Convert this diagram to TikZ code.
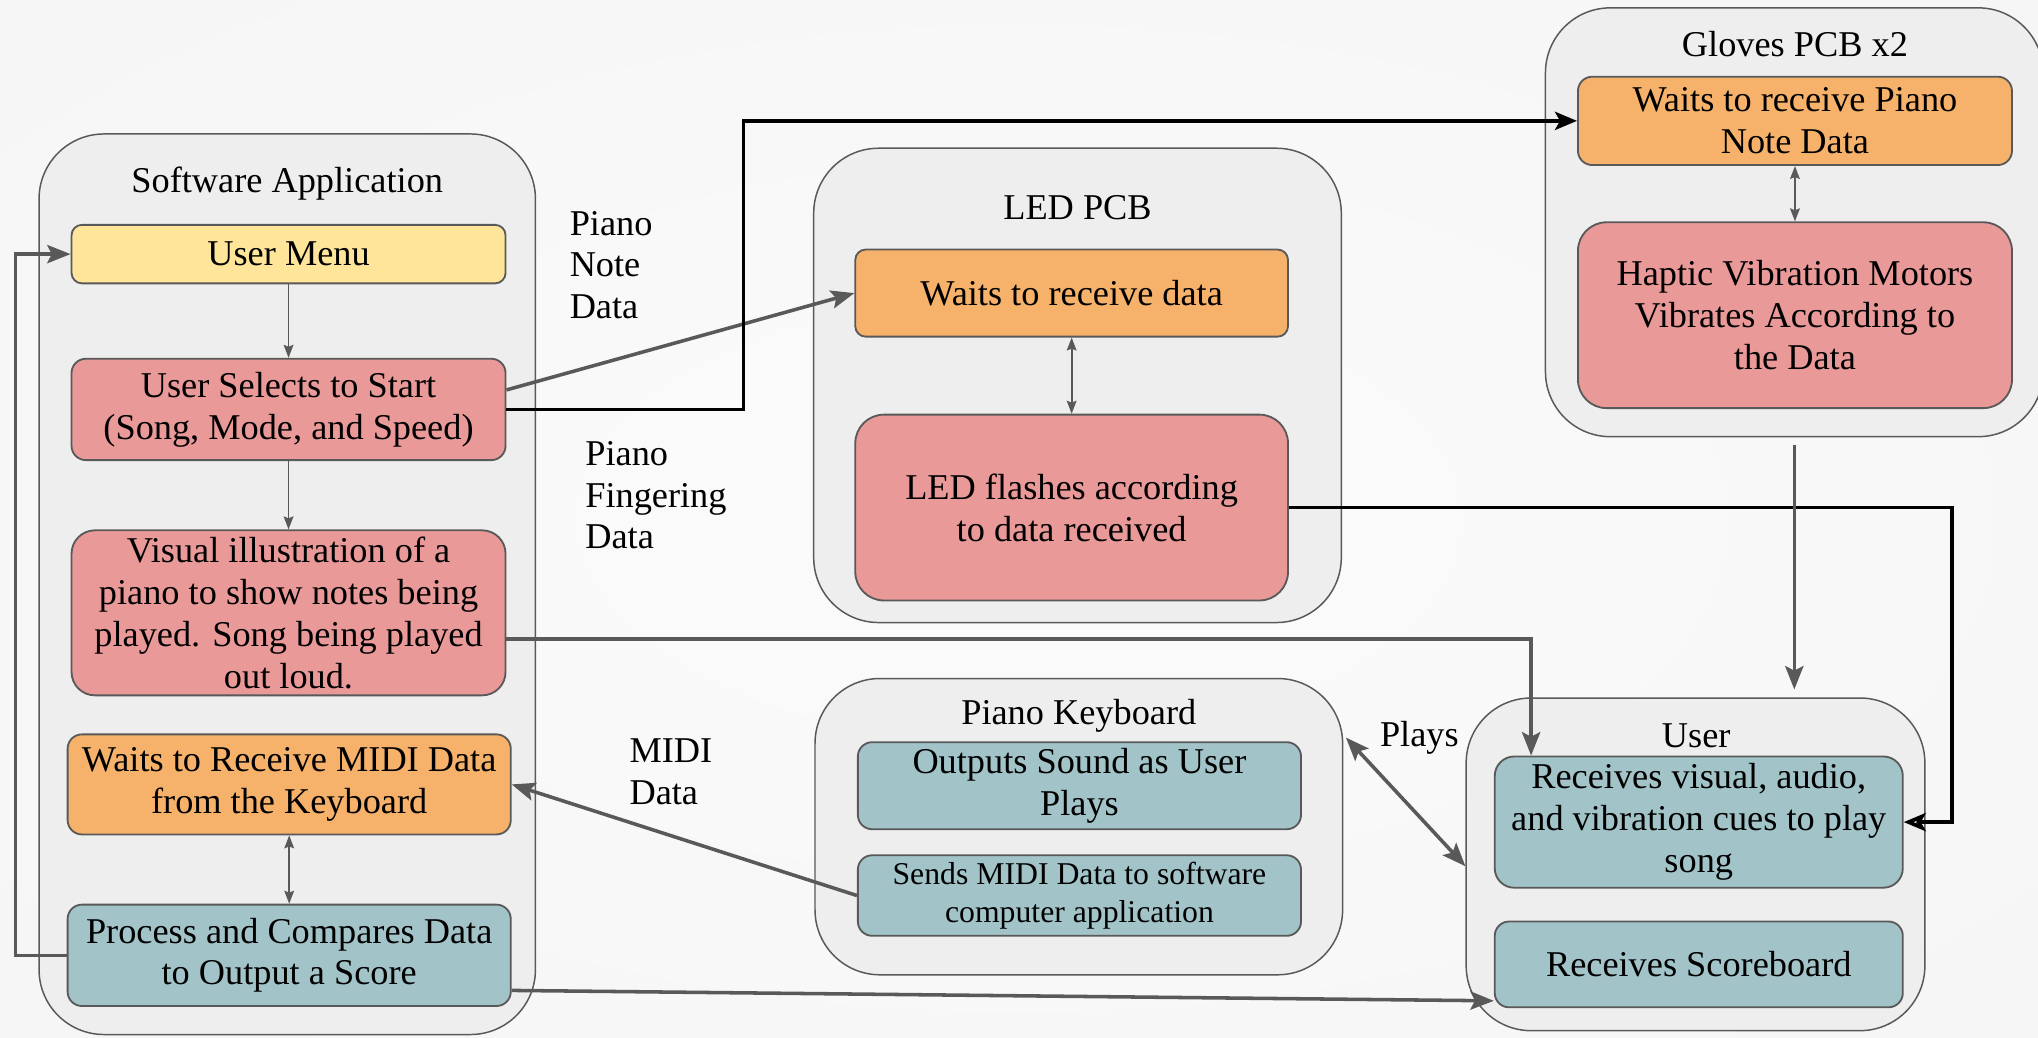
\documentclass[tikz,border=0pt]{standalone}
\usepackage{fontspec}
\setmainfont{Liberation Serif}
\usetikzlibrary{arrows.meta,calc}
\definecolor{pinkf}{HTML}{EA9999}
\definecolor{orangef}{HTML}{F6B26B}
\definecolor{yellowf}{HTML}{FFE599}
\definecolor{tealf}{HTML}{A2C4C9}
\definecolor{contf}{HTML}{EEEEEE}
\definecolor{lineg}{HTML}{595959}
\pgfdeclareradialshading{bgshade}{\pgfpoint{0bp}{0bp}}{color(0bp)=(gray!3); color(30bp)=(gray!8); color(50bp)=(gray!28)}
\begin{document}
\begin{tikzpicture}[x=0.02cm, y=-0.02cm,
  font=\fontsize{15.9pt}{18.3pt}\selectfont,
  base/.style={draw=lineg, line width=0.8pt, inner sep=0pt, align=center, rounded corners=0.22cm},
  container/.style={base, line width=0.65pt, fill=contf, rounded corners=1cm},
  pinkbox/.style={base, fill=pinkf},
  orangebox/.style={base, fill=orangef},
  yellowbox/.style={base, fill=yellowf},
  tealbox/.style={base, fill=tealf},
  wh/.style 2 args={minimum width=#1cm, minimum height=#2cm},
  ttl/.style={inner sep=0pt, align=center},
  lbl/.style={inner sep=0pt, align=left, anchor=west},
  thinarr/.style={draw=lineg, line width=0.75pt, -{Stealth[length=0.2cm,width=0.15cm,inset=0.03cm]}},
  thinboth/.style={draw=lineg, line width=0.75pt, {Stealth[length=0.2cm,width=0.15cm,inset=0.03cm]}-{Stealth[length=0.2cm,width=0.15cm,inset=0.03cm]}},
  grayarr/.style={draw=lineg, line width=1.55pt, -{Stealth[length=0.36cm,width=0.28cm,inset=0.07cm]}},
  grayboth/.style={draw=lineg, line width=1.55pt, {Stealth[length=0.36cm,width=0.28cm,inset=0.07cm]}-{Stealth[length=0.36cm,width=0.28cm,inset=0.07cm]}},
  blkarr/.style={draw=black, line width=1.65pt, -{Stealth[length=0.34cm,width=0.28cm,inset=0.08cm]}},
  blkopen/.style={draw=black, line width=1.65pt, -{Stealth[length=0.34cm,width=0.28cm,inset=0.08cm,open]}},
]
\useasboundingbox (0,0) rectangle (1568,798);
\clip (0,0) rectangle (1568,798);
\shade[shading=bgshade] (-300,-150) rectangle (1868,948);

% containers
\node[container, wh={7.64}{13.86}] (sw) at (221,449.5) {};
\node[container, wh={8.12}{7.3}] (led) at (829,296.5) {};
\node[container, wh={7.66}{6.6}] (gl) at (1380.5,171) {};
\node[container, wh={8.12}{4.56}] (pk) at (830,636) {};
\node[container, wh={7.06}{5.12}] (usr) at (1304.5,665) {};

% titles
\node[ttl] (swt) at (221,141) {Software Application};
\node[ttl] (ledt) at (829,160) {LED PCB};
\node[ttl] (glt) at (1381,34) {Gloves PCB x2};
\node[ttl] (pkt) at (830,551) {Piano Keyboard};
\node[ttl] (usrt) at (1305,566) {User};

% software boxes
\node[yellowbox, rounded corners=0.16cm, wh={6.68}{0.9}] (um) at (222,195.5) {User Menu};
\node[pinkbox, wh={6.68}{1.56}] (sel) at (222,315) {User Selects to Start\\(Song, Mode, and Speed)};
\node[pinkbox, rounded corners=0.36cm, wh={6.68}{2.54}] (vis) at (222,471.5) {Visual illustration of a\\piano to show notes being\\played. Song being played\\out loud.};
\node[orangebox, wh={6.82}{1.54}] (wm) at (222.5,603.5) {Waits to Receive MIDI Data\\from the Keyboard};
\node[tealbox, wh={6.82}{1.56}] (pc) at (222.5,735) {Process and Compares Data\\to Output a Score};

% LED boxes
\node[orangebox, rounded corners=0.16cm, wh={6.66}{1.34}] (ledw) at (824.5,225.5) {Waits to receive data};
\node[pinkbox, rounded corners=0.44cm, wh={6.66}{2.86}] (ledf) at (824.5,390.5) {LED flashes according\\to data received};

% gloves boxes
\node[orangebox, wh={6.68}{1.36}] (glw) at (1381,93) {Waits to receive Piano\\Note Data};
\node[pinkbox, rounded corners=0.44cm, wh={6.68}{2.86}] (hap) at (1381,242.5) {Haptic Vibration Motors\\Vibrates According to\\the Data};

% piano keyboard boxes
\node[tealbox, wh={6.82}{1.34}] (os) at (830.5,604.5) {Outputs Sound as User\\Plays};
\node[tealbox, wh={6.82}{1.24}, font=\fontsize{13.9pt}{16.8pt}\selectfont] (sm) at (830.5,689) {Sends MIDI Data to software\\computer application};

% user boxes
\node[tealbox, rounded corners=0.3cm, wh={6.28}{2.02}] (rv) at (1307,632.5) {Receives visual, audio,\\and vibration cues to play\\song};
\node[tealbox, wh={6.28}{1.32}] (rs) at (1307,742) {Receives Scoreboard};

% labels
\node[lbl] (pnd) at (438,204) {Piano\\Note\\Data};
\node[lbl] (pfd) at (450,381) {Piano\\Fingering\\Data};
\node[lbl] (mdd) at (484,594) {MIDI\\Data};
\node[ttl] (plays) at (1092,568) {Plays};

% inner connectors
\draw[thinarr] (um.south) -- (sel.north);
\draw[thinarr] (sel.south) -- (vis.north);
\draw[thinboth] (wm.south) -- (pc.north);
\draw[thinboth] (ledw.south) -- (ledf.north);
\draw[thinboth] (glw.south) -- (hap.north);

% bend coordinates
\coordinate (fb) at (12,0);
\coordinate (b2) at (572,0);
\coordinate (b3) at (1502,0);
\coordinate (b5) at (1178,0);

% feedback loop
\draw[grayarr] (pc.west) -| (fb |- um.west) -- (um.west);
% piano note data to LED
\draw[grayarr] ($(sel.east)+(0,-15)$) -- (ledw.west);
% to gloves
\draw[blkarr] (sel.east) -| (b2 |- glw.west) -- (glw.west);
% LED to user
\draw[blkopen] (ledf.east) -| (b3 |- rv.east) -- (rv.east);
% gloves to user
\draw[grayarr] ($(gl.south)+(0,6)$) -- ($(gl.south |- usr.north)+(0,-6)$);
% visual to user
\draw[grayarr] ($(vis.east)+(0,20)$) -| (b5 |- rv.north);
% MIDI
\draw[grayarr] (sm.west) -- (wm.east);
% plays
\draw[grayboth] ($(pk.north east)+(2,46)$) -- ($(usr.north west)+(0,130)$);
% score
\draw[grayarr] ($(pc.east)+(0,27)$) -- ($(rs.west)+(0,28)$);
\end{tikzpicture}
\end{document}
